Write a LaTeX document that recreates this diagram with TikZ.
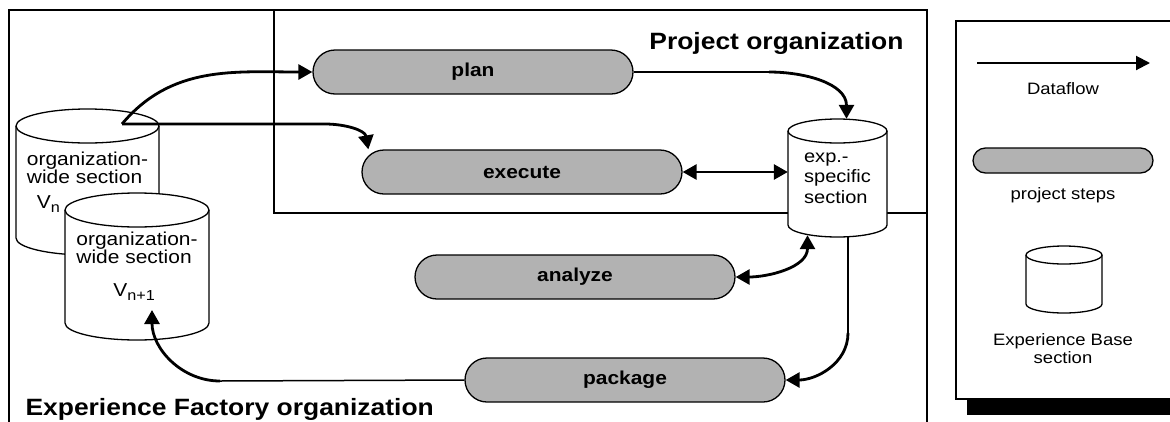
\documentclass[tikz,border=0pt]{standalone}
\usepackage{fontspec}
\setmainfont[FakeStretch=1.12]{Liberation Sans}
\usetikzlibrary{arrows.meta}
\definecolor{stepGray}{gray}{0.7}
%% Cylinder outline: centre x, centre y, width, height, cap radius.
\newcommand{\drawBase}[5]{%
  \filldraw[lineDecorate,fill=white]
    (#1-#3/2,#2+#4/2-#5) -- (#1-#3/2,#2-#4/2+#5)
    arc[start angle=180,end angle=360,x radius=#3/2,y radius=#5]
    -- (#1+#3/2,#2+#4/2-#5)
    arc[start angle=0,end angle=180,x radius=#3/2,y radius=#5] -- cycle;
  \draw[lineDecorate] (#1-#3/2,#2+#4/2-#5)
    arc[start angle=180,end angle=360,x radius=#3/2,y radius=#5];
}
%% Version index.
\newcommand{\verIdx}[1]{\raisebox{-4pt}{\fontsize{14.5}{15}\selectfont #1}}

\begin{document}
\begin{tikzpicture}[x=1pt,y=1pt,%%
  lineDecorate/.style={line width=1.3pt},%%
  thinDecorate/.style={line width=1.5pt},%%
  flowDecorate/.style={line width=2.8pt,-{Triangle[length=14pt,width=15pt]}},%%
  biflowDecorate/.style={line width=2.8pt,%%
    {Triangle[length=14pt,width=15pt]}-{Triangle[length=14pt,width=15pt]}},%%
  keyDecorate/.style={line width=2pt,-{Triangle[length=14pt,width=14pt]}},%%
  stepDecorate/.style={draw,line width=1.3pt,fill=stepGray,rounded corners=22pt,%%
    minimum width=320pt,minimum height=44pt,inner sep=0pt,%%
    font=\fontsize{18.7}{20}\selectfont\bfseries},%%
  baseDecorate/.style={inner sep=0pt,align=left,%%
    font=\fontsize{18.7}{16}\selectfont},%%
  titleDecorate/.style={font=\fontsize{23.6}{26}\selectfont\bfseries},%%
  legendDecorate/.style={font=\fontsize{16.5}{18}\selectfont,align=center}%%
]
\useasboundingbox (0,0) rectangle (1170,-421);
%%
%% Global variables.
\pgfmathsetmacro{\boxL}{9}
\pgfmathsetmacro{\boxT}{-10}
\pgfmathsetmacro{\boxR}{927}
\pgfmathsetmacro{\projL}{274}
\pgfmathsetmacro{\projB}{-213}
%%
%% Experience Factory frame, its bottom runs off the page.
\draw[lineDecorate] (\boxL,-440) -- (\boxL,\boxT) -- (\boxR,\boxT) -- (\boxR,-440);
%%
%% Project frame.
\draw[lineDecorate] (\projL,\boxT) -- (\projL,\projB) -- (\boxR,\projB);
\node[titleDecorate,anchor=base east] (projTitle) at (907,-49) {Project organization};
\node[titleDecorate,anchor=base west] (efTitle) at (22,-415) {Experience Factory organization};
%%
%% Project steps.
\node[stepDecorate] (plan) at (473,-72) {plan};
\node[stepDecorate] (execute) at (522,-172) {execute};
\node[stepDecorate] (analyze) at (575,-277) {analyze};
\node[stepDecorate] (package) at (625,-380) {package};
%%
%% Experience base sections.
\drawBase{87.5}{-182}{143}{146}{17}
\node[baseDecorate,minimum width=143pt,minimum height=146pt] (orgN) at (87.5,-182)
  {organization-\\wide section\\[9pt]\hspace*{10pt}V\verIdx{n}};
\drawBase{137}{-266.5}{144}{147}{17}
\node[baseDecorate,minimum width=144pt,minimum height=147pt] (orgNext) at (137,-266.5)
  {organization-\\wide section\\[17pt]\hspace*{37pt}V\verIdx{n+1}};
\drawBase{837.5}{-178}{99}{118}{12}
\node[baseDecorate,minimum width=99pt,minimum height=118pt,%%
  font=\fontsize{17.9}{20.5}\selectfont] (expBase) at (837.5,-178)
  {exp.-\\specific\\section};
%%
%% Dataflow.
\coordinate (orgTap) at (122,-124);
\coordinate (execBend) at (325,-124);
\coordinate (planBend) at (769,-72);
\coordinate (packBend) at (848,-333);
\coordinate (nextBend) at (220,-381);
\coordinate (nextTap) at (152,-310);
\draw[flowDecorate] (orgTap) to[out=50,in=180] (plan.west);
\draw[flowDecorate] (orgTap) -- (execBend) to[out=0,in=100] ([xshift=7pt]execute.north west);
\draw[thinDecorate] (plan.east) -- (planBend);
\draw[flowDecorate] (planBend) to[out=0,in=90] ([xshift=9pt]expBase.north);
\draw[biflowDecorate] (execute.east) -- (execute.east -| expBase.west);
\draw[biflowDecorate] (analyze.east) to[out=0,in=-90] ([xshift=-30pt,yshift=2pt]expBase.south);
\draw[thinDecorate] ([xshift=10.5pt]expBase.south) -- (packBend);
\draw[flowDecorate] (packBend) to[out=-90,in=0] (package.east);
\draw[thinDecorate] (package.west) -- (nextBend);
\draw[flowDecorate] (nextBend) to[out=180,in=-90] (nextTap);
%%
%% Legend with its shadow.
\fill[black] (967,-399) rectangle (1190,-415);
\draw[lineDecorate,fill=white] (956,-21) rectangle (1190,-399);
\coordinate (keyFrom) at (977,-63);
\coordinate (keyTo) at (1150,-63);
\draw[keyDecorate] (keyFrom) -- (keyTo);
\node[legendDecorate] (keyFlowText) at (1063,-89) {Dataflow};
\node[stepDecorate,minimum width=180pt,minimum height=25pt,rounded corners=12.5pt]
  (keyStep) at (1063,-160.5) {};
\node[legendDecorate] (keyStepText) at (1063,-195) {project steps};
\drawBase{1064}{-279.5}{76}{67}{9}
\node[legendDecorate] (keyBaseText) at (1063,-349) {Experience Base\\section};
\end{tikzpicture}
\end{document}
